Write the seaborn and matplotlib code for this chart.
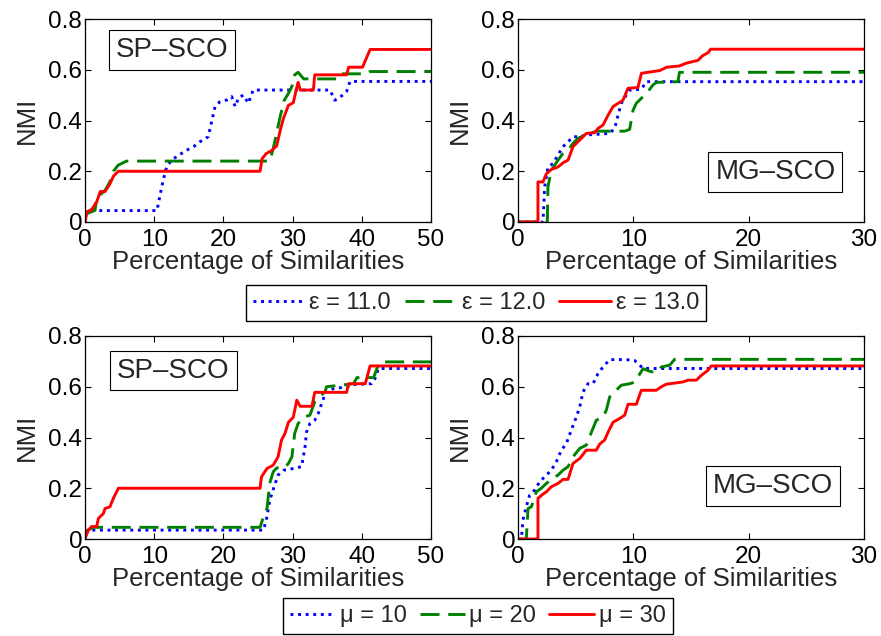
import matplotlib
matplotlib.use("Agg")
import matplotlib.pyplot as plt
import seaborn as sns

# ---------------------------------------------------------------- data
eps_labels = ["ε = 11.0", "ε = 12.0", "ε = 13.0"]
mu_labels = ["μ = 10", "μ = 20", "μ = 30"]

y_ticks = [0, 0.2, 0.4, 0.6, 0.8]
y_tick_labels = ["0", "0.2", "0.4", "0.6", "0.8"]
sp_x_ticks = [0, 10, 20, 30, 40, 50]
mg_x_ticks = [0, 10, 20, 30]

# SP-SCO, varying epsilon
sp_eps11_x = [0, 0.5, 10.4, 10.8, 11.3, 11.8, 12.5, 13.7, 14.7, 15.7, 16.6, 17.8, 18.3, 18.8,
              19.5, 20.5, 21.2, 21.7, 22.2, 22.9, 23.6, 24.3, 35.4, 36.1, 36.8, 37.8, 38.3, 50]
sp_eps11_y = [0.035, 0.045, 0.045, 0.10, 0.165, 0.217, 0.244, 0.266, 0.283, 0.297, 0.316, 0.336, 0.395,
              0.455, 0.474, 0.481, 0.494, 0.455, 0.49, 0.50, 0.468, 0.52, 0.52, 0.48, 0.49, 0.514,
              0.554, 0.554]
sp_eps12_x = [0, 1.45, 1.7, 2.9, 3.6, 4.1, 4.8, 6.0, 26.7, 27.2, 27.7, 28.2, 28.8, 29.4, 29.9,
              30.3, 30.8, 31.6, 36.4, 36.8, 40.7, 41.2, 50]
sp_eps12_y = [0.03, 0.046, 0.095, 0.125, 0.158, 0.2, 0.224, 0.24, 0.24, 0.29, 0.35, 0.415, 0.48,
              0.507, 0.534, 0.58, 0.59, 0.564, 0.564, 0.584, 0.584, 0.593, 0.593]
sp_eps13_x = [0, 0.3, 1.0, 1.7, 2.2, 2.9, 3.6, 4.1, 4.8, 25.3, 25.6, 26.2, 26.9, 27.7, 28.2, 28.7,
              29.4, 30.1, 30.6, 30.8, 31.1, 33.0, 33.2, 37.8, 38.1, 40.1, 41.2, 50]
sp_eps13_y = [0, 0.04, 0.05, 0.08, 0.12, 0.12, 0.15, 0.18, 0.2, 0.2, 0.25, 0.27, 0.28, 0.30, 0.36,
              0.41, 0.46, 0.47, 0.53, 0.55, 0.52, 0.52, 0.58, 0.58, 0.61, 0.61, 0.68, 0.68]

# MG-SCO, varying epsilon
mg_eps11_x = [0, 2.17, 2.31, 2.6, 3.03, 3.47, 3.9, 4.34, 4.77, 5.35, 5.92, 7.95, 8.38, 8.67, 8.96,
              9.39, 9.68, 10.69, 11.13, 30]
mg_eps11_y = [0, 0, 0.138, 0.217, 0.23, 0.264, 0.297, 0.316, 0.336, 0.336, 0.343, 0.349, 0.369,
              0.42, 0.468, 0.5, 0.52, 0.523, 0.553, 0.553]
mg_eps12_x = [0, 2.54, 2.6, 2.89, 3.47, 3.9, 4.34, 4.77, 5.2, 5.92, 6.79, 9.25, 9.68, 9.97, 10.26,
              10.84, 11.27, 11.7, 12.0, 13.87, 14.0, 30]
mg_eps12_y = [0, 0, 0.14, 0.204, 0.244, 0.27, 0.283, 0.31, 0.33, 0.343, 0.358, 0.358, 0.365, 0.44,
              0.468, 0.494, 0.514, 0.54, 0.55, 0.553, 0.59, 0.59]
mg_eps13_x = [0, 1.73, 1.73, 2.17, 2.46, 2.89, 3.47, 3.9, 4.34, 4.77, 5.35, 5.92, 6.65, 6.94, 7.37,
              7.8, 8.24, 9.1, 9.54, 10.4, 10.7, 12.3, 12.9, 14.0, 14.6, 15.6, 16.0, 16.5, 16.7, 30]
mg_eps13_y = [0, 0, 0.158, 0.158, 0.19, 0.207, 0.217, 0.233, 0.244, 0.297, 0.323, 0.349, 0.352,
              0.369, 0.382, 0.42, 0.455, 0.48, 0.527, 0.53, 0.586, 0.597, 0.61, 0.615, 0.626, 0.637,
              0.655, 0.668, 0.681, 0.681]

# SP-SCO, varying mu
sp_mu10_x = [0, 0.72, 25.8, 26.3, 26.7, 27.5, 27.9, 28.7, 29.6, 31.3, 31.8, 32.0, 32.5, 33.2, 33.7,
             34.2, 34.9, 35.9, 37.8, 38.8, 41.4, 41.9, 42.4, 50]
sp_mu10_y = [0.029, 0.035, 0.035, 0.088, 0.153, 0.22, 0.252, 0.271, 0.275, 0.285, 0.364, 0.42,
             0.455, 0.468, 0.494, 0.534, 0.586, 0.592, 0.6, 0.609, 0.612, 0.632, 0.672, 0.672]
sp_mu20_x = [0, 1.2, 25.3, 25.8, 26.3, 26.7, 27.2, 27.7, 28.9, 29.4, 29.9, 30.3, 30.8, 31.6, 32.5,
             33.2, 34.0, 34.7, 34.9, 38.8, 39.3, 41.7, 42.1, 42.6, 50]
sp_mu20_y = [0.03, 0.046, 0.046, 0.088, 0.12, 0.22, 0.265, 0.28, 0.282, 0.298, 0.324, 0.416, 0.455,
             0.48, 0.488, 0.54, 0.563, 0.58, 0.60, 0.612, 0.636, 0.636, 0.665, 0.698, 0.698]
sp_mu30_x = [0, 0.48, 0.96, 1.69, 1.93, 2.65, 2.89, 3.61, 4.09, 4.82, 25.3, 25.5, 26.3, 27.2, 27.9,
             28.4, 28.9, 29.4, 30.1, 30.6, 31.1, 32.8, 33.2, 37.8, 38.1, 40.5, 41.2, 50]
sp_mu30_y = [0, 0.035, 0.049, 0.049, 0.081, 0.1, 0.12, 0.127, 0.16, 0.2, 0.2, 0.245, 0.278, 0.291,
             0.324, 0.39, 0.416, 0.46, 0.48, 0.547, 0.523, 0.523, 0.578, 0.578, 0.612, 0.612,
             0.682, 0.682]

# MG-SCO, varying mu
mg_mu10_x = [0, 0.29, 0.43, 0.72, 1.01, 1.45, 1.88, 2.31, 2.89, 3.32, 3.76, 4.19, 4.62, 5.06, 5.35,
             5.64, 6.07, 6.5, 6.94, 7.37, 7.95, 9.39, 10.12, 10.55, 10.84, 30]
mg_mu10_y = [0, 0, 0.075, 0.127, 0.173, 0.193, 0.226, 0.245, 0.271, 0.304, 0.35, 0.376, 0.429,
             0.481, 0.52, 0.58, 0.612, 0.612, 0.652, 0.678, 0.707, 0.707, 0.703, 0.685, 0.672, 0.672]
mg_mu20_x = [0, 0.72, 0.87, 1.16, 1.59, 2.02, 2.46, 2.89, 3.47, 3.9, 4.34, 4.77, 5.35, 5.92, 6.21,
             6.79, 7.37, 7.66, 7.95, 8.38, 8.96, 9.68, 10.12, 10.4, 10.84, 11.56, 12.14, 12.43,
             13.15, 13.58, 30]
mg_mu20_y = [0, 0, 0.12, 0.127, 0.186, 0.2, 0.219, 0.235, 0.252, 0.271, 0.285, 0.324, 0.357, 0.37,
             0.403, 0.468, 0.48, 0.508, 0.56, 0.58, 0.606, 0.612, 0.618, 0.639, 0.671, 0.659, 0.659,
             0.678, 0.685, 0.708, 0.708]
mg_mu30_x = [0, 1.73, 1.73, 2.17, 2.46, 2.89, 3.47, 3.9, 4.34, 4.77, 5.35, 5.92, 6.79, 7.08, 7.51,
             7.8, 8.24, 8.82, 9.25, 9.54, 10.26, 10.69, 11.99, 12.43, 12.86, 14.3, 14.74, 15.46,
             15.9, 16.47, 16.76, 30]
mg_mu30_y = [0, 0, 0.16, 0.177, 0.186, 0.206, 0.219, 0.235, 0.235, 0.298, 0.317, 0.35, 0.35, 0.374,
             0.39, 0.42, 0.46, 0.475, 0.488, 0.531, 0.531, 0.586, 0.586, 0.6, 0.61, 0.619, 0.626,
             0.626, 0.645, 0.665, 0.682, 0.682]

# ---------------------------------------------------------------- style
sns.set_theme(style="ticks")
plt.rcParams["font.family"] = ["Liberation Sans", "DejaVu Sans"]
plt.rcParams["axes.edgecolor"] = "black"
plt.rcParams["axes.linewidth"] = 0.9

colors = ["#0000ff", "#008000", "#ff0000"]
dash_patterns = [(1.0, 1.6), (6.5, 3.0), None]
LW = 2.1

TICK_FS = 17.5
LABEL_FS = 18.5
LEGEND_FS = 17
TAG_FS = 20

fig = plt.figure(figsize=(8.81, 6.36), dpi=100)
W, H = 881, 636


def axes_at(left, top, right, bottom):
    return fig.add_axes([left / W, 1 - bottom / H, (right - left) / W, (bottom - top) / H])


def draw_panel(ax, series, xmax, xticks, tag, tag_xy):
    for (xs, ys), color, dash in zip(series, colors, dash_patterns):
        sns.lineplot(x=xs, y=ys, ax=ax, color=color, linewidth=LW,
                     estimator=None, sort=False, legend=False)
        line = ax.get_lines()[-1]
        if dash is not None:
            line.set_dashes(dash)
            line.set_dash_capstyle("butt")
    ax.set_xlim(0, xmax)
    ax.set_ylim(0, 0.8)
    ax.set_xticks(xticks)
    ax.set_xticklabels([str(t) for t in xticks])
    ax.set_yticks(y_ticks)
    ax.set_yticklabels(y_tick_labels)
    ax.tick_params(direction="in", top=True, right=True, length=4, width=0.8,
                   labelsize=TICK_FS, colors="black")
    ax.tick_params(axis="x", pad=5)
    ax.tick_params(axis="y", pad=2)
    ax.set_xlabel("Percentage of Similarities", fontsize=LABEL_FS, labelpad=-1)
    ax.set_ylabel("NMI", fontsize=LABEL_FS, labelpad=7)
    for sp in ax.spines.values():
        sp.set_visible(True)
        sp.set_color("black")
    ax.text(tag_xy[0], tag_xy[1], tag, transform=ax.transAxes, ha="center", va="center",
            fontsize=TAG_FS, zorder=10,
            bbox=dict(boxstyle="square,pad=0.25", fc="white", ec="black", lw=0.8))


ax_tl = axes_at(85, 19, 431, 222)
ax_tr = axes_at(518, 19, 864, 222)
ax_bl = axes_at(85, 336, 431, 539)
ax_br = axes_at(518, 336, 864, 539)

draw_panel(ax_tl, [(sp_eps11_x, sp_eps11_y), (sp_eps12_x, sp_eps12_y), (sp_eps13_x, sp_eps13_y)],
           50, sp_x_ticks, "SP–SCO", (0.251, 0.847))
draw_panel(ax_tr, [(mg_eps11_x, mg_eps11_y), (mg_eps12_x, mg_eps12_y), (mg_eps13_x, mg_eps13_y)],
           30, mg_x_ticks, "MG–SCO", (0.744, 0.246))
draw_panel(ax_bl, [(sp_mu10_x, sp_mu10_y), (sp_mu20_x, sp_mu20_y), (sp_mu30_x, sp_mu30_y)],
           50, sp_x_ticks, "SP–SCO", (0.256, 0.830))
draw_panel(ax_br, [(mg_mu10_x, mg_mu10_y), (mg_mu20_x, mg_mu20_y), (mg_mu30_x, mg_mu30_y)],
           30, mg_x_ticks, "MG–SCO", (0.737, 0.259))


def add_legend(handles, labels, anchor, loc, handlelength, columnspacing):
    leg = fig.legend(handles=handles, labels=labels, loc=loc, bbox_to_anchor=anchor,
                     bbox_transform=fig.transFigure, ncol=3, frameon=True, fancybox=False,
                     framealpha=1, edgecolor="black", fontsize=LEGEND_FS, borderpad=0.3,
                     handlelength=handlelength, handletextpad=0.2, columnspacing=columnspacing,
                     borderaxespad=0)
    leg.get_frame().set_linewidth(1.0)
    return leg


add_legend(ax_tl.get_lines()[:3], eps_labels, (476 / W, 1 - 303 / H), "center", 2.2, 0.6)
add_legend(ax_bl.get_lines()[:3], mu_labels, (478 / W, 1 - 598 / H), "upper center", 1.9, 0.55)

fig.savefig("out.png", dpi=100)
